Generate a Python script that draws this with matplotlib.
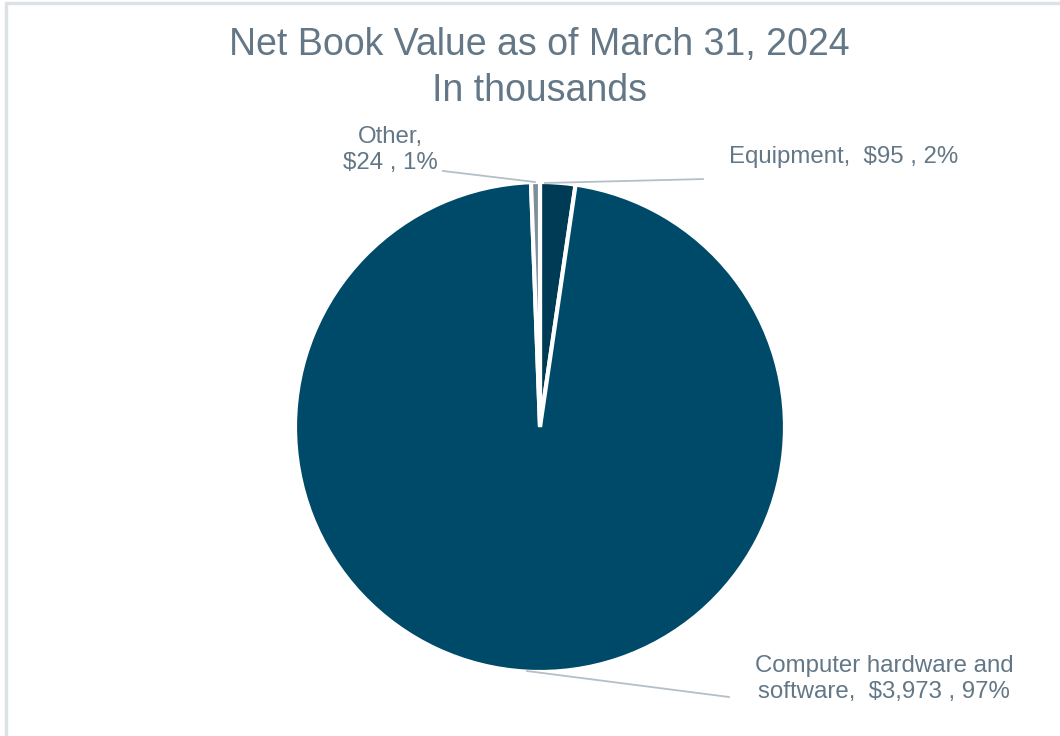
import matplotlib.pyplot as plt
from matplotlib.patches import Rectangle

# data (in thousands)
categories = ["Equipment", "Computer hardware and\nsoftware", "Other"]
values = [95, 3973, 24]
percents = ["2%", "97%", "1%"]
colors = ["#003b56", "#004a69", "#7d8e9b"]

plt.rcParams['font.family'] = ['Liberation Sans', 'DejaVu Sans']
text_color = "#637786"
line_color = "#b4bfc7"

fig = plt.figure(figsize=(10.6, 7.36), dpi=100)

# light frame of the chart area (right/bottom edges fall outside the crop)
fig.patches.append(Rectangle((6 / 1060, -0.1), 1.2, (736 - 3) / 736 + 0.1,
                             transform=fig.transFigure, fill=False,
                             edgecolor="#dde2e6", linewidth=2.5))

# pie axes placed so the pie sits at px center (540, 427), radius ~244
W, H = 1060, 736
cx, cy, r = 540, 427, 245
ax = fig.add_axes([(cx - r) / W, (H - cy - r) / H, 2 * r / W, 2 * r / H])
ax.pie(values, colors=colors, startangle=90, counterclock=False,
       wedgeprops=dict(edgecolor="white", linewidth=3))
ax.set_xlim(-1, 1)
ax.set_ylim(-1, 1)
ax.set_aspect("equal")
ax.axis("off")

fig.text(0.509, 1 - 68 / H, "Net Book Value as of March 31, 2024\nIn thousands",
         ha="center", va="center", fontsize=27, color=text_color,
         linespacing=1.33)

# labels with leader lines (data coords in units of pie radius)
labels = [
    ("Equipment,  $95 , 2%", (0.771, 1.102), "left",
     [(0.02, 0.996), (0.665, 1.012)]),
    ("Computer hardware and\nsoftware,  $3,973 , 97%", (1.404, -1.03), "center",
     [(-0.053, -0.996), (0.771, -1.102)]),
    ("Other,\n$24 , 1%", (-0.612, 1.131), "center",
     [(-0.021, 1.0), (-0.396, 1.045)]),
]
for txt, pos, ha, line in labels:
    ax.text(pos[0], pos[1], txt, ha=ha, va="center", fontsize=17.3,
            color=text_color, linespacing=1.25, clip_on=False)
    ax.plot([p[0] for p in line], [p[1] for p in line], color=line_color,
            linewidth=1.3, clip_on=False)

plt.savefig("out.png", dpi=100)
